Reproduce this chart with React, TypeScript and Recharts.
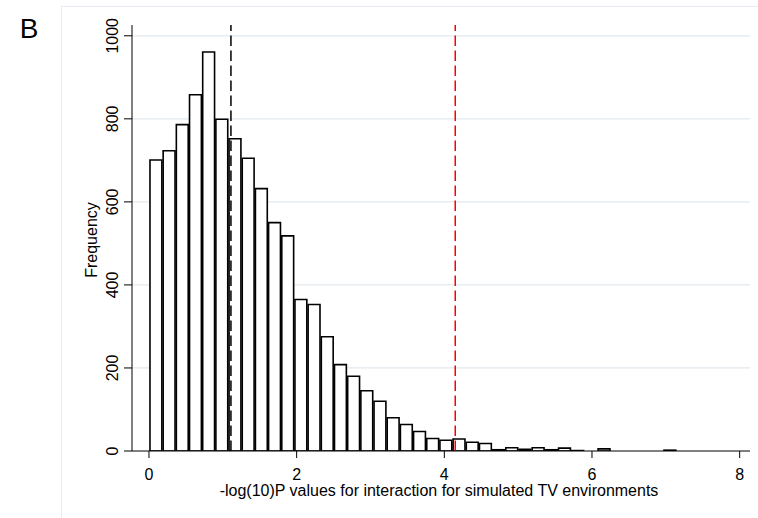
import React from "react";
import {
  Bar,
  CartesianGrid,
  ComposedChart,
  ReferenceLine,
  XAxis,
  YAxis,
} from "recharts";

// histogram of simulated -log10(P) values, 40 bins starting at 0
const BIN_WIDTH = 0.1785;
const counts = [
  701, 723, 786, 858, 961, 799, 752, 705, 632, 550,
  518, 365, 353, 275, 208, 180, 145, 120, 80, 64,
  47, 30, 26, 29, 21, 18, 3, 8, 4, 8,
  3, 7, 1, 0, 5, 0, 0, 0, 0, 2,
];
const xTicks = [0, 2, 4, 6, 8];
const yTicks = [0, 200, 400, 600, 800, 1000];
const meanLine = 1.11; // black dashed
const observedLine = 4.148; // red dashed

const X_DOMAIN: [number, number] = [-0.23, 8.14];
const Y_DOMAIN: [number, number] = [0, 1026];

const W = 758;
const H = 518;
const margin = { top: 25, right: 8, left: 72, bottom: 17 };
const Y_AXIS_W = 60;
const X_AXIS_H = 50;
const plotWidth = W - margin.left - margin.right - Y_AXIS_W;
const barPx = (plotWidth * BIN_WIDTH) / (X_DOMAIN[1] - X_DOMAIN[0]);

const rows = counts.map((n, i) => ({ mid: (i + 0.5) * BIN_WIDTH, n }));

const FONT = '"Liberation Sans", Arial, Helvetica, sans-serif';

function YTick(props: any) {
  const { x, y, payload } = props;
  return (
    <text
      x={x}
      y={y}
      transform={`rotate(-90 ${x} ${y})`}
      textAnchor="middle"
      fontSize={16}
      fill="#000"
      fontFamily={FONT}
    >
      {payload.value}
    </text>
  );
}

function XTick(props: any) {
  const { x, y, payload } = props;
  return (
    <text x={x} y={y} dy={11.5} textAnchor="middle" fontSize={16} fill="#000" fontFamily={FONT}>
      {payload.value}
    </text>
  );
}

function XTitle(props: any) {
  const vb = props.viewBox;
  return (
    <text
      x={vb.x + vb.width / 2 - 2}
      y={vb.y + 45}
      textAnchor="middle"
      fontSize={16}
      fill="#000"
      fontFamily={FONT}
    >
      -log(10)P values for interaction for simulated TV environments
    </text>
  );
}

function YTitle(props: any) {
  const vb = props.viewBox;
  const x = vb.x + 25;
  const y = vb.y + vb.height / 2 + 2;
  return (
    <text
      x={x}
      y={y}
      transform={`rotate(-90 ${x} ${y})`}
      textAnchor="middle"
      fontSize={16}
      fill="#000"
      fontFamily={FONT}
    >
      Frequency
    </text>
  );
}

export default function App() {
  return (
    <div
      style={{
        position: "absolute",
        left: 0,
        top: 0,
        width: W,
        height: H,
        overflow: "hidden",
        background: "#fff",
        fontFamily: FONT,
      }}
    >
      <div
        style={{
          position: "absolute",
          left: 61,
          top: 6,
          width: 800,
          height: 600,
          border: "1px solid #e6ecf1",
          boxSizing: "border-box",
        }}
      />
      <div
        style={{
          position: "absolute",
          left: 19.7,
          top: 14.6,
          fontSize: 28,
          lineHeight: 1,
          color: "#000",
        }}
      >
        B
      </div>
      <div style={{ position: "absolute", left: 0, top: 0 }}>
        <ComposedChart width={W} height={H} data={rows} margin={margin}>
          <CartesianGrid
            vertical={false}
            stroke="#e2e9ef"
            strokeWidth={1.3}
            horizontalValues={[200, 400, 600, 800, 1000]}
          />
          <XAxis
            dataKey="mid"
            type="number"
            domain={X_DOMAIN}
            ticks={xTicks}
            allowDataOverflow
            height={X_AXIS_H}
            tickSize={7}
            tickMargin={10}
            axisLine={{ stroke: "#000", strokeWidth: 1 }}
            tickLine={{ stroke: "#000", strokeWidth: 1 }}
            tick={<XTick />}
            label={{ content: <XTitle /> }}
          />
          <YAxis
            type="number"
            domain={Y_DOMAIN}
            ticks={yTicks}
            allowDataOverflow
            width={Y_AXIS_W}
            tickSize={8}
            tickMargin={6}
            axisLine={{ stroke: "#000", strokeWidth: 1 }}
            tickLine={{ stroke: "#000", strokeWidth: 1 }}
            tick={<YTick />}
            label={{ content: <YTitle /> }}
          />
          <Bar
            dataKey="n"
            barSize={barPx}
            fill="#fff"
            stroke="#000"
            strokeWidth={1.6}
            isAnimationActive={false}
          />
          <ReferenceLine
            x={meanLine}
            stroke="#000"
            strokeWidth={1.5}
            strokeDasharray="10.5 4.5"
          />
          <ReferenceLine
            x={observedLine}
            stroke="#ff0000"
            strokeWidth={1.5}
            strokeDasharray="10.5 4.5"
          />
        </ComposedChart>
      </div>
    </div>
  );
}
